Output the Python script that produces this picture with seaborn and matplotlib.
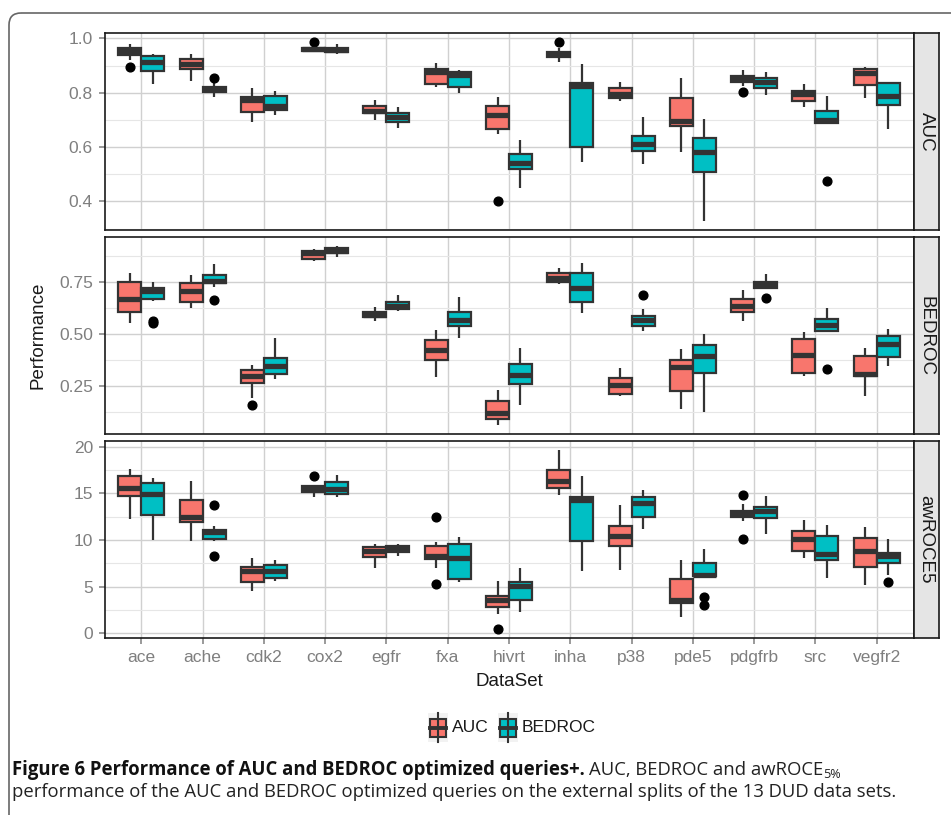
import numpy as np
import pandas as pd
import seaborn as sns
import matplotlib.pyplot as plt
from matplotlib.patches import FancyBboxPatch, Rectangle

datasets = ['ace', 'ache', 'cdk2', 'cox2', 'egfr', 'fxa', 'hivrt', 'inha',
            'p38', 'pde5', 'pdgfrb', 'src', 'vegfr2']
methods = ['AUC', 'BEDROC']
metrics = ['AUC', 'BEDROC', 'awROCE5']

# box summaries: (whisker low, q1, median, q3, whisker high)
auc_by_auc = [
    (0.919, 0.940, 0.955, 0.963, 0.978),
    (0.845, 0.888, 0.906, 0.925, 0.941),
    (0.691, 0.731, 0.774, 0.786, 0.817),
    (0.949, 0.954, 0.961, 0.966, 0.973),
    (0.698, 0.726, 0.733, 0.751, 0.773),
    (0.823, 0.834, 0.877, 0.886, 0.908),
    (0.648, 0.666, 0.719, 0.753, 0.784),
    (0.914, 0.933, 0.943, 0.951, 0.966),
    (0.771, 0.781, 0.797, 0.817, 0.839),
    (0.582, 0.676, 0.697, 0.781, 0.853),
    (0.826, 0.841, 0.853, 0.862, 0.883),
    (0.747, 0.771, 0.796, 0.807, 0.831),
    (0.780, 0.828, 0.874, 0.886, 0.894),
]
auc_by_bedroc = [
    (0.831, 0.881, 0.912, 0.934, 0.941),
    (0.786, 0.804, 0.813, 0.823, 0.835),
    (0.720, 0.735, 0.753, 0.789, 0.807),
    (0.941, 0.951, 0.958, 0.966, 0.978),
    (0.672, 0.692, 0.712, 0.727, 0.747),
    (0.798, 0.822, 0.865, 0.877, 0.883),
    (0.450, 0.520, 0.540, 0.576, 0.627),
    (0.545, 0.601, 0.824, 0.837, 0.905),
    (0.538, 0.586, 0.612, 0.642, 0.710),
    (0.328, 0.509, 0.581, 0.633, 0.703),
    (0.793, 0.817, 0.839, 0.856, 0.875),
    (0.685, 0.688, 0.700, 0.732, 0.789),
    (0.666, 0.756, 0.787, 0.835, 0.841),
]
bedroc_by_auc = [
    (0.551, 0.607, 0.667, 0.750, 0.793),
    (0.628, 0.654, 0.710, 0.744, 0.784),
    (0.192, 0.262, 0.296, 0.325, 0.351),
    (0.854, 0.862, 0.889, 0.899, 0.909),
    (0.561, 0.582, 0.593, 0.604, 0.630),
    (0.292, 0.377, 0.425, 0.473, 0.521),
    (0.061, 0.091, 0.120, 0.176, 0.231),
    (0.740, 0.750, 0.772, 0.793, 0.817),
    (0.202, 0.213, 0.253, 0.287, 0.337),
    (0.139, 0.226, 0.343, 0.375, 0.428),
    (0.561, 0.606, 0.635, 0.667, 0.712),
    (0.296, 0.313, 0.397, 0.478, 0.510),
    (0.200, 0.296, 0.309, 0.393, 0.433),
]
bedroc_by_bedroc = [
    (0.660, 0.668, 0.708, 0.721, 0.753),
    (0.726, 0.745, 0.758, 0.787, 0.837),
    (0.284, 0.309, 0.348, 0.383, 0.481),
    (0.870, 0.891, 0.902, 0.913, 0.925),
    (0.609, 0.620, 0.636, 0.654, 0.687),
    (0.479, 0.540, 0.566, 0.606, 0.678),
    (0.157, 0.258, 0.301, 0.357, 0.433),
    (0.601, 0.654, 0.720, 0.793, 0.841),
    (0.513, 0.540, 0.566, 0.588, 0.620),
    (0.123, 0.313, 0.393, 0.446, 0.500),
    (0.720, 0.724, 0.742, 0.753, 0.788),
    (0.513, 0.516, 0.543, 0.572, 0.625),
    (0.345, 0.388, 0.452, 0.489, 0.524),
]
roce_by_auc = [
    (12.26, 14.72, 15.54, 16.83, 17.61),
    (9.88, 11.91, 12.44, 14.26, 16.36),
    (4.53, 5.45, 6.63, 7.06, 8.02),
    (14.58, 15.12, 15.47, 15.76, 15.90),
    (7.02, 8.13, 8.77, 9.23, 9.59),
    (7.02, 7.95, 8.27, 9.38, 9.84),
    (2.00, 2.82, 3.57, 4.00, 5.56),
    (14.83, 15.54, 16.29, 17.50, 19.68),
    (6.74, 9.41, 10.48, 11.55, 13.76),
    (1.71, 3.28, 3.53, 5.78, 7.88),
    (12.05, 12.44, 12.91, 13.12, 13.87),
    (8.09, 8.77, 10.12, 10.94, 12.16),
    (5.17, 7.06, 8.81, 10.20, 11.44),
]
roce_by_bedroc = [
    (10.02, 12.66, 14.94, 16.08, 16.65),
    (9.91, 10.09, 10.84, 11.12, 11.55),
    (5.60, 5.92, 6.63, 7.27, 7.88),
    (14.58, 14.90, 15.47, 16.19, 17.01),
    (8.24, 8.70, 9.06, 9.38, 9.59),
    (5.45, 5.85, 8.06, 9.55, 10.34),
    (2.21, 3.57, 5.06, 5.49, 7.02),
    (6.63, 9.91, 14.30, 14.58, 16.86),
    (11.19, 12.44, 13.94, 14.58, 15.37),
    (5.92, 6.10, 6.27, 7.56, 9.06),
    (10.62, 12.37, 13.08, 13.58, 14.72),
    (5.92, 7.81, 8.52, 10.41, 11.62),
    (6.27, 7.49, 8.27, 8.63, 10.12),
]

# outlying points
auc_out_auc = {'ace': [0.894], 'cox2': [0.987], 'hivrt': [0.401], 'inha': [0.985], 'pdgfrb': [0.802]}
auc_out_bedroc = {'ache': [0.855], 'src': [0.474]}
bedroc_out_auc = {'cdk2': [0.160]}
bedroc_out_bedroc = {'ace': [0.555, 0.565], 'ache': [0.665], 'p38': [0.687],
                     'pdgfrb': [0.675], 'src': [0.333]}
roce_out_auc = {'cox2': [16.85], 'fxa': [5.28, 12.48], 'hivrt': [0.43], 'pdgfrb': [10.13, 14.83]}
roce_out_bedroc = {'ache': [8.27, 13.76], 'pde5': [3.03, 3.85], 'vegfr2': [5.49]}

yticks = {'AUC': [0.4, 0.6, 0.8, 1.0], 'BEDROC': [0.25, 0.50, 0.75], 'awROCE5': [0, 5, 10, 15, 20]}
ylabels = {'AUC': ['0.4', '0.6', '0.8', '1.0'], 'BEDROC': ['0.25', '0.50', '0.75'],
           'awROCE5': ['0', '5', '10', '15', '20']}

stats = {('AUC', 'AUC'): (auc_by_auc, auc_out_auc), ('AUC', 'BEDROC'): (auc_by_bedroc, auc_out_bedroc),
         ('BEDROC', 'AUC'): (bedroc_by_auc, bedroc_out_auc), ('BEDROC', 'BEDROC'): (bedroc_by_bedroc, bedroc_out_bedroc),
         ('awROCE5', 'AUC'): (roce_by_auc, roce_out_auc), ('awROCE5', 'BEDROC'): (roce_by_bedroc, roce_out_bedroc)}


def sample_from_summary(lo, q1, med, q3, hi, outs):
    # 13 values whose quartiles / whiskers / fliers reproduce the summary
    low = sorted(o for o in outs if o < q1)
    high = sorted(o for o in outs if o > q3)
    below = low + [lo] * (3 - len(low))
    above = [hi] * (3 - len(high)) + high
    return below + [q1, q1, med, med, med, q3, q3] + above


rows = []
for (metric, method), (boxes, outs) in stats.items():
    for ds, s in zip(datasets, boxes):
        for v in sample_from_summary(*s, outs.get(ds, [])):
            rows.append((metric, method, ds, v))
df = pd.DataFrame(rows, columns=['Metric', 'Method', 'DataSet', 'Performance'])

palette = {'AUC': '#F8766D', 'BEDROC': '#00BFC4'}
line_col = '#333333'
grey_txt = '#7F7F7F'

plt.rcParams['font.family'] = ['Liberation Sans', 'DejaVu Sans']

W, H = 951, 815
fig = plt.figure(figsize=(W / 100, H / 100), dpi=100)


def px_axes(l, t, r, b):
    return fig.add_axes([l / W, 1 - b / H, (r - l) / W, (b - t) / H])


# background canvas in pixel units (frame, caption, legend)
bg = px_axes(0, 0, W, H)
bg.set_xlim(0, W)
bg.set_ylim(H, 0)
bg.axis('off')
bg.add_patch(FancyBboxPatch((9, 13), 1000, 900, boxstyle='round,pad=0,rounding_size=12',
                            fc='none', ec='#666666', lw=1.2))

left, right, strip_r = 104.5, 913.5, 938.5
bounds = [(33, 230), (237, 434), (441, 638)]

for i, metric in enumerate(metrics):
    top, bot = bounds[i]
    ax = px_axes(left, top, right, bot)
    sub = df[df.Metric == metric]
    sns.boxplot(data=sub, x='DataSet', y='Performance', hue='Method', order=datasets,
                hue_order=methods, palette=palette, width=0.75, gap=0, saturation=1,
                linewidth=1.6, linecolor=line_col, showcaps=False, fliersize=6.3,
                flierprops={'marker': 'o', 'markerfacecolor': 'black', 'markeredgecolor': 'black'},
                medianprops={'linewidth': 3.8, 'color': line_col},
                legend=False, ax=ax)
    maj = yticks[metric]
    ax.set_yticks(maj)
    ax.set_yticklabels(ylabels[metric])
    step = maj[1] - maj[0]
    minors = [m + step / 2 for m in [maj[0] - step] + maj]
    ax.set_yticks(minors, minor=True)
    # ggplot-style 5% expansion of the data range
    lo, hi = sub.Performance.min(), sub.Performance.max()
    pad = (hi - lo) * 0.05
    ax.set_ylim(lo - pad, hi + pad)
    ax.set_xlim(-0.6, len(datasets) - 0.4)
    ax.set_axisbelow(True)
    ax.grid(True, which='major', axis='both', color='#D0D0D0', lw=1.0)
    ax.grid(True, which='minor', axis='y', color='#E6E6E6', lw=0.8)
    ax.tick_params(axis='y', which='minor', length=0)
    ax.tick_params(which='major', length=4.3, width=1.1, color=grey_txt, labelcolor=grey_txt,
                   labelsize=12.5, pad=4)
    ax.set_xlabel('')
    ax.set_ylabel('')
    for sp in ax.spines.values():
        sp.set_color('#1A1A1A')
        sp.set_linewidth(1.2)
    if i < 2:
        ax.tick_params(axis='x', which='both', bottom=False, labelbottom=False)

    sax = px_axes(right, top, strip_r, bot)
    sax.set_facecolor('#E5E5E5')
    sax.set_xticks([])
    sax.set_yticks([])
    for sp in sax.spines.values():
        sp.set_color('#1A1A1A')
        sp.set_linewidth(1.2)
    sax.text(0.5, 0.5, metric, rotation=-90, ha='center', va='center',
             fontsize=13.5, color='#1A1A1A', transform=sax.transAxes)

# axis titles
bg.text(38, (bounds[0][0] + bounds[2][1]) / 2, 'Performance', rotation=90, ha='center',
        va='center', fontsize=13.5, color='#1A1A1A')
bg.text((left + right) / 2, 681, 'DataSet', ha='center', va='center', fontsize=13.5, color='#1A1A1A')

# legend
kx = [428, 498]
tx = [452, 522]
for m, x0, xt in zip(methods, kx, tx):
    bg.add_patch(Rectangle((x0, 713), 20, 29, fc='#F2F2F2', ec='none'))
    bg.plot([x0 + 10, x0 + 10], [713, 742], color=line_col, lw=1.5)
    bg.add_patch(Rectangle((x0 + 2, 719), 16, 18, fc=palette[m], ec=line_col, lw=1.5))
    bg.plot([x0 + 2, x0 + 18], [728, 728], color=line_col, lw=2.8)
    bg.text(xt, 728, m, ha='left', va='center', fontsize=12.5, color='#1A1A1A')

# caption
cap_font = ['Open Sans', 'DejaVu Sans']
renderer = fig.canvas.get_renderer()
line2 = 'performance of the AUC and BEDROC optimized queries on the external splits of the 13 DUD data sets.'
t2 = bg.text(12, 797, line2, ha='left', va='baseline', fontsize=11, family=cap_font, color='#222222')
w = t2.get_window_extent(renderer).width
fs = 11 * 888 / w
t2.set_fontsize(fs)

t1 = bg.text(12, 775, 'Figure 6 Performance of AUC and BEDROC optimized queries+.', ha='left',
             va='baseline', fontsize=fs, weight='bold', family=cap_font, color='#111111')
x1 = t1.get_window_extent(renderer).x1
t1b = bg.text(x1 + 4, 775, 'AUC, BEDROC and awROCE', ha='left', va='baseline', fontsize=fs,
              family=cap_font, color='#222222')
x2 = t1b.get_window_extent(renderer).x1
bg.text(x2 + 0.5, 778, '5%', ha='left', va='baseline', fontsize=fs * 0.68,
        family=cap_font, color='#222222')

fig.savefig('out.png', dpi=100)
